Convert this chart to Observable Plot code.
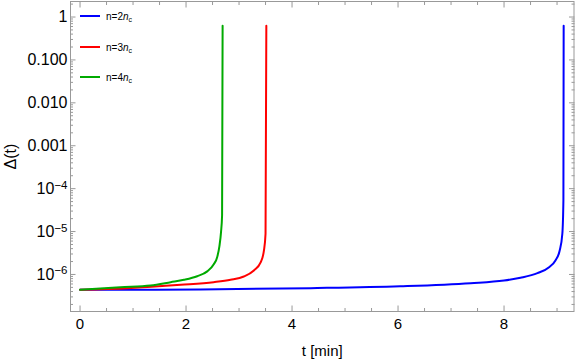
<!DOCTYPE html>
<html><head><meta charset="utf-8">
<script src="https://cdn.jsdelivr.net/npm/d3@7"></script>
<script src="https://cdn.jsdelivr.net/npm/@observablehq/plot@0.6"></script>
<style>
body{margin:0;background:#fff;font-family:"Liberation Sans",Arial,sans-serif;}
#wrap{position:relative;width:577px;height:361px;overflow:hidden;}
.leg{position:absolute;left:80px;height:12px;font-size:10px;line-height:12px;white-space:nowrap;}
.leg span.sw{display:inline-block;width:20px;height:2px;vertical-align:middle;margin-right:6px;position:relative;top:-1px;}
.leg i{font-style:italic;}
.leg sub{font-size:7px;vertical-align:-2px;line-height:0;}
</style></head><body><div id="wrap"></div>
<script>
// series labels and colours
const seriesLabels = ["2", "3", "4"];           // n = k n_c
const seriesColors = ["#0000ff", "#ff0000", "#00aa00"];

// n = 2 n_c (blue)
const tBlue = [0, 2.27, 4.35, 6.04, 7.37, 8.0, 8.31, 8.63, 8.85, 8.97, 9.05, 9.10, 9.12, 9.125];
const dBlue = [4.40e-7, 4.47e-7, 4.80e-7, 5.31e-7, 6.27e-7, 7.24e-7, 8.38e-7, 1.07e-6, 1.48e-6, 2.12e-6, 3.62e-6, 8.89e-6, 5.31e-5, 0.63];
// n = 3 n_c (red)
const tRed = [0, 0.89, 1.90, 2.52, 2.84, 3.09, 3.28, 3.41, 3.47, 3.50, 3.515];
const dRed = [4.40e-7, 4.80e-7, 5.75e-7, 6.62e-7, 7.52e-7, 8.97e-7, 1.24e-6, 1.94e-6, 3.62e-6, 8.89e-6, 0.63];
// n = 4 n_c (green)
const tGreen = [0, 0.76, 1.33, 1.71, 1.96, 2.21, 2.40, 2.52, 2.59, 2.63, 2.66, 2.68, 2.69];
const dGreen = [4.40e-7, 5.06e-7, 5.54e-7, 6.62e-7, 7.5e-7, 9.1e-7, 1.18e-6, 1.7e-6, 2.6e-6, 4.6e-6, 9.7e-6, 2.4e-5, 0.63];

// ticks
const xMajor = [0, 2, 4, 6, 8];
const xMinor = [0.5, 1, 1.5, 2.5, 3, 3.5, 4.5, 5, 5.5, 6.5, 7, 7.5, 8.5, 9];
const yMajor = [1e-6, 1e-5, 1e-4, 1e-3, 1e-2, 1e-1, 1];
const yMajorLabels = ["10^-6", "10^-5", "10^-4", "0.001", "0.010", "0.100", "1"];

const yMinor = [];
for (let e = -7; e <= 0; e++) for (let k = 2; k <= 9; k++) {
  const v = k * Math.pow(10, e);
  if (v > 1.37e-7 && v < 2.3) yMinor.push(+v.toPrecision(3));
}

const toRows = (ts, ds, s) => ts.map((t, i) => ({t, d: ds[i], s}));
const rows = [
  ...toRows(tBlue, dBlue, 0),
  ...toRows(tRed, dRed, 1),
  ...toRows(tGreen, dGreen, 2)
];

const grey = "#999";
const fmtY = d => yMajorLabels[yMajor.indexOf(d)];

const chart = Plot.plot({
  width: 577, height: 361,
  marginLeft: 70, marginRight: 3.5, marginTop: 1, marginBottom: 50,
  style: {fontFamily: '"Liberation Sans", Arial, sans-serif', fontSize: "15px", color: "black", background: "white"},
  x: {domain: [-0.18, 9.32]},
  y: {type: "log", domain: [1.37e-7, 2.3]},
  marks: [
    Plot.frame({stroke: grey}),
    // bottom axis
    Plot.axisX({anchor: "bottom", ticks: xMajor, tickSize: -5.5, tickPadding: 12, stroke: grey, fill: "black",
      fontSize: 15, tickFormat: d => String(d), label: "t [min]", labelAnchor: "center", labelOffset: 44, labelArrow: "none"}),
    Plot.axisX({anchor: "bottom", ticks: xMinor, tickSize: -3, tickFormat: () => "", stroke: grey, label: null}),
    // top axis
    Plot.axisX({anchor: "top", ticks: xMajor, tickSize: -5.5, tickFormat: () => "", stroke: grey, label: null}),
    Plot.axisX({anchor: "top", ticks: xMinor, tickSize: -3, tickFormat: () => "", stroke: grey, label: null}),
    // left axis
    Plot.axisY({anchor: "left", ticks: yMajor, tickSize: -5.5, tickPadding: 8.5, stroke: grey, fill: "black",
      fontSize: 16, tickFormat: fmtY, label: "Δ(t)", labelAnchor: "center", labelOffset: 66, labelArrow: "none"}),
    Plot.axisY({anchor: "left", ticks: yMinor, tickSize: -3, tickFormat: () => "", stroke: grey, label: null}),
    // right axis
    Plot.axisY({anchor: "right", ticks: yMajor, tickSize: -5.5, tickFormat: () => "", stroke: grey, label: null}),
    Plot.axisY({anchor: "right", ticks: yMinor, tickSize: -3, tickFormat: () => "", stroke: grey, label: null}),
    // curves
    Plot.line(rows, {x: "t", y: "d", z: "s", stroke: d => seriesColors[d.s], strokeWidth: 2, curve: "monotone-x"})
  ]
});

// superscript formatting for 10^k labels
d3.select(chart).selectAll("text").each(function() {
  const txt = this.textContent;
  if (txt.includes("^")) {
    const [base, exp] = txt.split("^");
    const sel = d3.select(this);
    sel.text(null);
    sel.append("tspan").text(base);
    sel.append("tspan").attr("dy", "-0.45em").attr("font-size", "11.5px").text(exp.replace("-", "\u2212"));
  }
});

const wrap = document.getElementById("wrap");
wrap.appendChild(chart);

// legend (inside plot, top-left)
const legTops = [11, 42, 72];
seriesLabels.forEach((k, i) => {
  const div = document.createElement("div");
  div.className = "leg";
  div.style.top = legTops[i] + "px";
  div.innerHTML = `<span class="sw" style="background:${seriesColors[i]}"></span>n=${k}<i>n</i><sub>c</sub>`;
  wrap.appendChild(div);
});
</script>
</body></html>
